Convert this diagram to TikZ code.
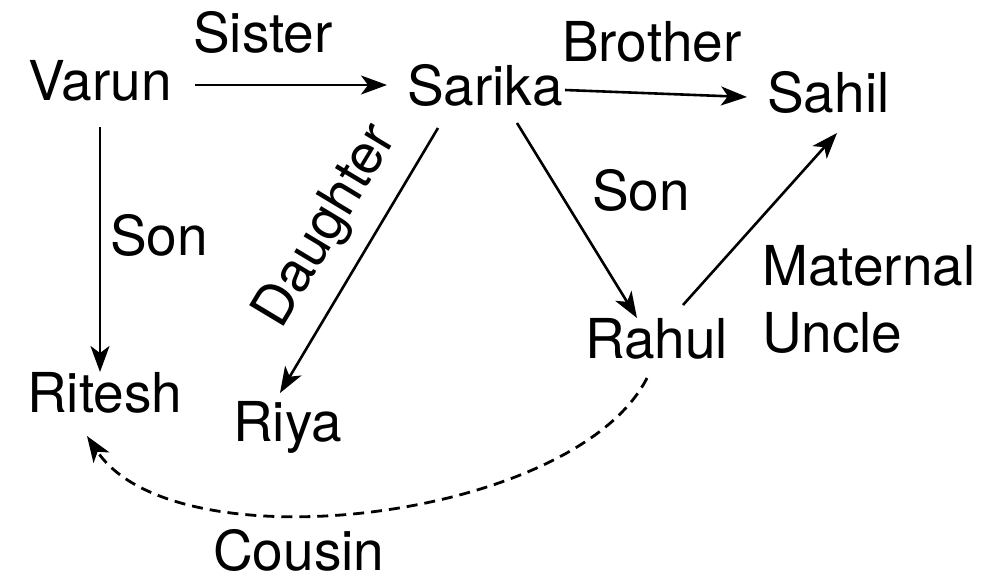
\documentclass[tikz,border=0pt]{standalone}
\usepackage{fontspec}
\setmainfont{TeX Gyre Heros}
\usetikzlibrary{arrows.meta}
\begin{document}
\begin{tikzpicture}[x=1pt,y=-1pt,
  lbl/.style={anchor=base west, inner sep=0pt, font=\fontsize{55}{60}\selectfont},
  arr/.style={line width=2.6pt, -{Stealth[length=26pt,width=19pt,inset=7pt]}},
  dsh/.style={arr, line width=2.8pt, dash pattern=on 11pt off 7pt}]
\useasboundingbox (0,0) rectangle (991,587);
% people
\node[lbl] (varun)  at (28,100)  {Varun};
\node[lbl] (sarika) at (407,105) {Sarika};
\node[lbl] (sahil)  at (767,112) {Sahil};
\node[lbl] (rahul)  at (585,358) {Rahul};
\node[lbl] (ritesh) at (27,412)  {Ritesh};
\node[lbl] (riya)   at (233,441) {Riya};
% relation labels
\node[lbl] (lsister)  at (193,52)  {Sister};
\node[lbl] (lbrother) at (562,61)  {Brother};
\node[lbl] (lson1)    at (110,255) {Son};
\node[lbl] (lson2)    at (592,210) {Son};
\node[lbl] (lmat)     at (762,285) {Maternal};
\node[lbl] (lunc)     at (762,352) {Uncle};
\node[lbl] (lcousin)  at (213,570) {Cousin};
\node[lbl, anchor=center, rotate=59] (ldaughter) at (327,227) {Daughter};
% connectors
\draw[arr] ([shift={(167,-15)}]varun.base west) -- ([shift={(-20,-20)}]sarika.base west);
\draw[arr] ([shift={(158,-15)}]sarika.base west) -- ([shift={(-20,-15)}]sahil.base west);
\draw[arr] ([shift={(72,27)}]varun.base west) -- ([shift={(73,-40)}]ritesh.base west);
\draw[arr] ([shift={(31,23)}]sarika.base west) -- ([shift={(47,-48)}]riya.base west);
\draw[arr] ([shift={(110,18)}]sarika.base west) -- ([shift={(52,-40)}]rahul.base west);
\draw[arr] ([shift={(98,-53)}]rahul.base west) -- ([shift={(70,21)}]sahil.base west);
\draw[dsh] ([shift={(62,20)}]rahul.base west) .. controls (575,520) and (175,568) .. ([shift={(60,24)}]ritesh.base west);
\end{tikzpicture}
\end{document}
